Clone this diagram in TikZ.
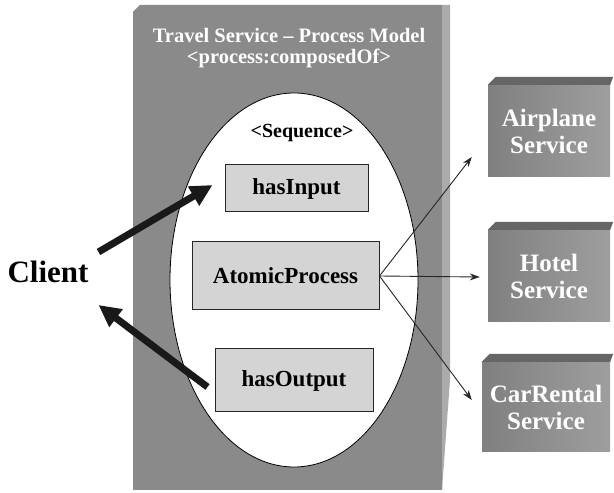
\documentclass[tikz,border=0pt]{standalone}
\usepackage{fontspec}
\setmainfont{Liberation Serif}
\usetikzlibrary{shapes.geometric,arrows.meta}
\begin{document}
\begin{tikzpicture}[x=1pt,y=1pt,
  every node/.style={font=\bfseries},
  titletext/.style={text=white,inner sep=0pt,font=\fontsize{20.5}{20.5}\selectfont\bfseries},
  stepbox/.style={draw=black!85,line width=1pt,fill=black!17,inner sep=0pt,font=\fontsize{23}{23}\selectfont\bfseries},
  service/.style={left color=black!50,right color=black!38,inner sep=0pt,text=white,align=center,font=\fontsize{25}{27}\selectfont\bfseries},
  bevel/.style={fill=black!60},
  bigarrow/.style={-{Triangle[length=22pt,width=21pt]},line width=7pt,black!90},
  thinarrow/.style={-{Stealth[length=10pt,width=7pt]},line width=0.9pt,black!85}]
\useasboundingbox (0,0) rectangle (614,493);
% Process model box
\fill[black!46] (133,3) -- (133,481) -- (140,488) -- (442,488) -- (442,3) -- cycle;
\fill[black!33] (442,3) -- (442,488) -- (450,488) -- (450,113) -- cycle;
\node[titletext] (title) at (289,458) {Travel Service -- Process Model};
\node[titletext] (titletag) at (289,435) {<process:composedOf>};
\node[draw,ellipse,fill=white,line width=0.8pt,minimum width=248,minimum height=374,inner sep=0pt] (seq) at (294,213) {};
\node[font=\fontsize{20}{20}\selectfont\bfseries] (seqlabel) at (302,360) {<Sequence>};
\node[stepbox,minimum width=143,minimum height=47] (hasinput) at (296.5,304.5) {hasInput};
\node[stepbox,minimum width=187,minimum height=68] (atomic) at (285.5,217) {AtomicProcess};
\node[stepbox,minimum width=158,minimum height=63] (hasoutput) at (294,112.5) {hasOutput};
% Client
\node[font=\fontsize{31}{31}\selectfont\bfseries] (client) at (48,221) {Client};
\draw[bigarrow] ([shift={(6.5,20)}]client.east) -- ([shift={(-12,3.5)}]hasinput.west);
\draw[bigarrow] ([shift={(-7,-6.5)}]hasoutput.west) -- ([shift={(6.5,-33)}]client.east);
% Services
\node[service,minimum width=122,minimum height=92] (air) at (549,362) {Airplane\\Service};
\node[service,minimum width=122,minimum height=92] (hotel) at (549,217) {Hotel\\Service};
\node[service,minimum width=128,minimum height=90] (car) at (546,86) {CarRental\\Service};
\foreach \s in {air,hotel,car}
  \fill[bevel] (\s.north west) -- ++(8,8) -- ([shift={(3,8)}]\s.north east) -- (\s.north east) -- cycle;
\draw[thinarrow] (atomic.east) -- ([shift={(-16,-26)}]air.west);
\draw[thinarrow] (atomic.east) -- ([shift={(-8,-1)}]hotel.west);
\draw[thinarrow] (atomic.east) -- ([shift={(-10,7)}]car.west);
\end{tikzpicture}
\end{document}
